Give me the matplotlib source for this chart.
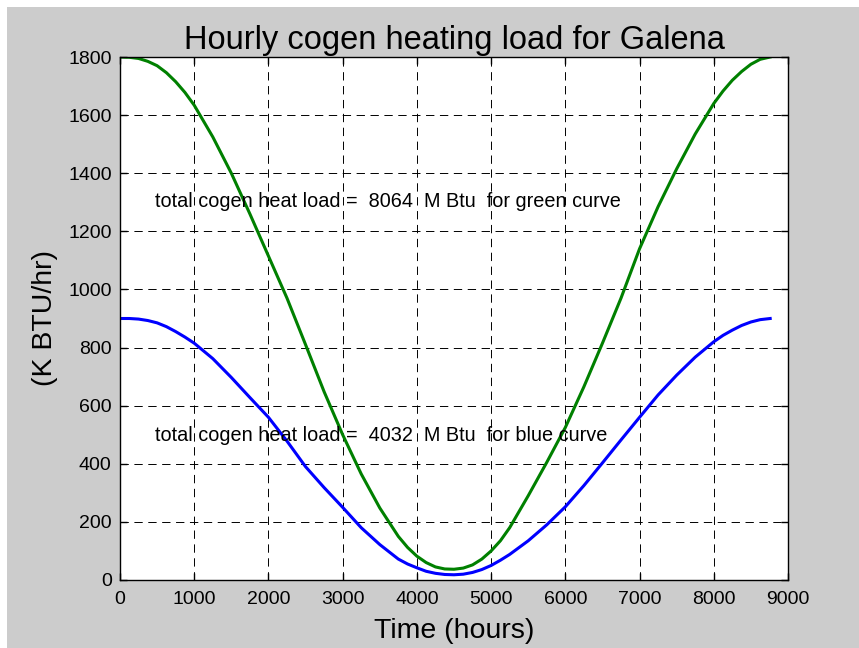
import numpy as np
import matplotlib as mpl
mpl.rcParams["font.family"] = ['Liberation Sans', 'DejaVu Sans']
mpl.rcParams["lines.scale_dashes"] = False
import matplotlib.pyplot as plt
from matplotlib.patches import Rectangle

# 读取的数据 (hours, K BTU/hr)
hours = [0, 125, 250, 375, 500, 625, 750, 875, 1000, 1250, 1500, 1750, 2000, 2250,
         2500, 2750, 3000, 3250, 3500, 3750, 3875, 4000, 4125, 4250, 4375, 4500,
         4625, 4750, 4875, 5000, 5125, 5250, 5500, 5750, 6000, 6250, 6500, 6750,
         7000, 7250, 7500, 7750, 8000, 8125, 8250, 8375, 8500, 8625, 8760]
green_load = [1800, 1799, 1795, 1785, 1770, 1746, 1715, 1678, 1634, 1525, 1400, 1260, 1115, 970,
              810, 648, 500, 365, 248, 150, 112, 82, 60, 45, 38, 37,
              41, 52, 72, 100, 135, 180, 290, 405, 525, 665, 815, 970,
              1140, 1285, 1415, 1535, 1640, 1683, 1720, 1750, 1775, 1792, 1800]
blue_load = [900, 900, 898, 893, 885, 872, 855, 836, 815, 762, 697, 628, 560, 478,
             390, 318, 250, 180, 122, 72, 55, 42, 30, 23, 19, 18,
             20, 26, 36, 50, 68, 88, 135, 190, 252, 325, 403, 482,
             560, 637, 705, 767, 820, 842, 860, 876, 888, 896, 900]
green_total = 8064
blue_total = 4032

fig = plt.figure(figsize=(8.59, 6.48), dpi=100)
fig.patch.set_facecolor('white')
fig.patches.append(Rectangle((7/859, 0), 1, 1-7/648, transform=fig.transFigure,
                             facecolor='#cccccc', edgecolor='none', zorder=-10))
ax = fig.add_axes([120/859, 68/648, 668/859, 523/648])
ax.set_facecolor('white')

ax.plot(hours, green_load, color='#008000', lw=2.2)
ax.plot(hours, blue_load, color='#0000ff', lw=2.2)

ax.set_xlim(0, 9000)
ax.set_ylim(0, 1800)
ax.set_xticks(np.arange(0, 9001, 1000))
ax.set_yticks(np.arange(0, 1801, 200))
ax.grid(True, color='black', lw=0.7, linestyle=(0, (6, 4)))
ax.tick_params(direction='in', length=5, width=1, top=True, right=True,
               labelsize=14, pad=6)
ax.tick_params(axis='x', pad=8)
for s in ax.spines.values():
    s.set_linewidth(1)

ax.text(470, 1283, 'total cogen heat load =  %d  M Btu  for green curve' % green_total,
        fontsize=14.3, ha='left', va='baseline')
ax.text(470, 480, 'total cogen heat load =  %d  M Btu  for blue curve' % blue_total,
        fontsize=14.3, ha='left', va='baseline')

ax.set_title('Hourly cogen heating load for Galena', fontsize=23.5, pad=6)
ax.set_xlabel('Time (hours)', fontsize=20.5, labelpad=7)
ax.set_ylabel('(K BTU/hr)', fontsize=20.5, labelpad=7)

plt.savefig('out.png', dpi=100)
